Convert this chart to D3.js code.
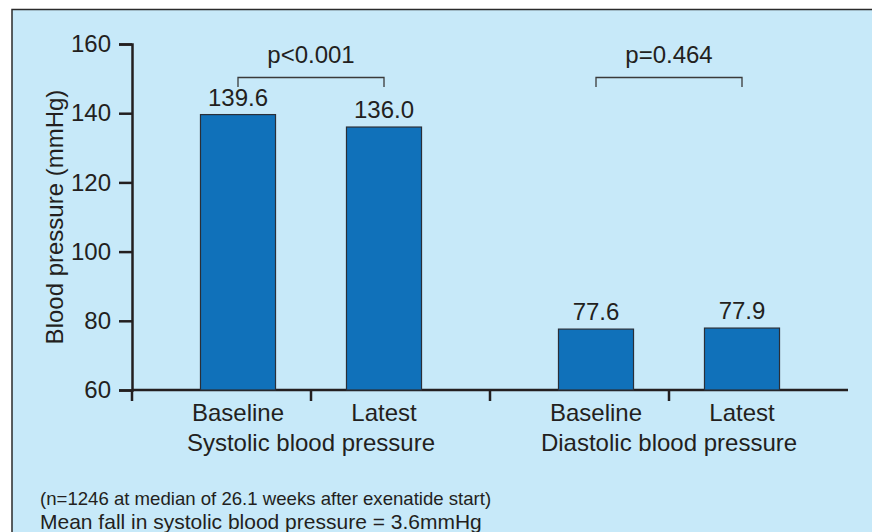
<!DOCTYPE html>
<html>
<head>
<meta charset="utf-8">
<script src="https://cdn.jsdelivr.net/npm/d3@7"></script>
<style>
  html, body { margin: 0; padding: 0; background: #ffffff; }
  svg { display: block; font-family: "Liberation Sans", Arial, Helvetica, sans-serif; }
</style>
</head>
<body>
<svg id="chart" width="872" height="532"></svg>
<script>
// Blood pressure at baseline and latest visit, by measure
const groups = ["Systolic blood pressure", "Diastolic blood pressure"];
const visits = ["Baseline", "Latest"];
const systolicValues = [139.6, 136.0];
const diastolicValues = [77.6, 77.9];
const pValues = ["p<0.001", "p=0.464"];
const yTicks = [60, 80, 100, 120, 140, 160];
const footnotes = [
  "(n=1246 at median of 26.1 weeks after exenatide start)",
  "Mean fall in systolic blood pressure = 3.6mmHg"
];

const seriesByGroup = [systolicValues, diastolicValues];
const rows = groups.flatMap((g, gi) =>
  visits.map((v, vi) => ({ group: g, visit: v, value: seriesByGroup[gi][vi] })));

const svg = d3.select("#chart");
const ink = "#231f20";
const fs = 24;

// Panel background
svg.append("rect")
  .attr("x", 12).attr("y", 9.5)
  .attr("width", 872).attr("height", 540)
  .attr("fill", "#c7e9f9")
  .attr("stroke", "#2b2b2b").attr("stroke-width", 1.5);

const plot = { left: 132, right: 848, top: 44, bottom: 390 };

const y = d3.scaleLinear().domain([60, 160]).range([plot.bottom, plot.top]);
const x0 = d3.scaleBand().domain(groups).range([plot.left, plot.right]);
const x1 = d3.scaleBand().domain(visits)
  .range([0, x0.bandwidth()])
  .paddingInner(0.486).paddingOuter(0.469);

// Y axis
const yAxis = svg.append("g")
  .attr("transform", `translate(${plot.left},0)`)
  .call(d3.axisLeft(y).tickValues(yTicks).tickSize(13).tickPadding(8));
yAxis.select(".domain").attr("stroke", ink).attr("stroke-width", 2.5);
yAxis.selectAll(".tick line").attr("stroke", ink).attr("stroke-width", 2.5);
yAxis.selectAll(".tick text")
  .attr("fill", ink).attr("font-size", fs)
  .attr("font-family", "'Liberation Sans', Arial, sans-serif");

// X axis: ticks at group edges and centres
const tickPos = d3.scaleLinear().domain([0, 4]).range([plot.left, plot.right]);
svg.append("line")
  .attr("x1", plot.left).attr("x2", plot.right)
  .attr("y1", plot.bottom).attr("y2", plot.bottom)
  .attr("stroke", ink).attr("stroke-width", 2.5);
svg.selectAll(".xtick").data([0, 1, 2, 3]).join("line")
  .attr("class", "xtick")
  .attr("x1", d => tickPos(d)).attr("x2", d => tickPos(d))
  .attr("y1", plot.bottom).attr("y2", plot.bottom + 11)
  .attr("stroke", ink).attr("stroke-width", 2.5);

// Bars
svg.selectAll(".bar").data(rows).join("rect")
  .attr("class", "bar")
  .attr("x", d => x0(d.group) + x1(d.visit))
  .attr("width", x1.bandwidth())
  .attr("y", d => y(d.value))
  .attr("height", d => y(60) - y(d.value))
  .attr("fill", "#1071ba")
  .attr("stroke", "#2a2f38").attr("stroke-width", 1.2);

// Value labels
svg.selectAll(".val").data(rows).join("text")
  .attr("class", "val")
  .attr("x", d => x0(d.group) + x1(d.visit) + x1.bandwidth() / 2)
  .attr("y", d => y(d.value) - 9)
  .attr("text-anchor", "middle")
  .attr("font-size", fs).attr("fill", ink)
  .text(d => d.value.toFixed(1));

// Category labels
svg.selectAll(".cat").data(rows).join("text")
  .attr("class", "cat")
  .attr("x", d => x0(d.group) + x1(d.visit) + x1.bandwidth() / 2)
  .attr("y", 421)
  .attr("text-anchor", "middle")
  .attr("font-size", fs).attr("fill", ink)
  .text(d => d.visit);

svg.selectAll(".grp").data(groups).join("text")
  .attr("class", "grp")
  .attr("x", d => x0(d) + x0.bandwidth() / 2)
  .attr("y", 450.5)
  .attr("text-anchor", "middle")
  .attr("font-size", fs).attr("fill", ink)
  .text(d => d);

// Significance brackets
groups.forEach((g, gi) => {
  const xa = x0(g) + x1(visits[0]) + x1.bandwidth() / 2;
  const xb = x0(g) + x1(visits[1]) + x1.bandwidth() / 2;
  const top = 77.5, drop = 9.5;
  svg.append("path")
    .attr("d", `M${xa},${top + drop}V${top}H${xb}V${top + drop}`)
    .attr("fill", "none").attr("stroke", "#3a3a3a").attr("stroke-width", 1.3);
  svg.append("text")
    .attr("x", (xa + xb) / 2).attr("y", 63)
    .attr("text-anchor", "middle")
    .attr("font-size", fs).attr("fill", ink)
    .text(pValues[gi]);
});

// Y axis title
svg.append("text")
  .attr("transform", `translate(62.5,${(plot.top + plot.bottom) / 2}) rotate(-90)`)
  .attr("text-anchor", "middle")
  .attr("font-size", fs).attr("fill", ink)
  .text("Blood pressure (mmHg)");

// Footnotes
svg.append("text").attr("x", 40).attr("y", 505)
  .attr("font-size", 18.6).attr("fill", ink).text(footnotes[0]);
svg.append("text").attr("x", 40).attr("y", 529)
  .attr("font-size", 21).attr("fill", ink).text(footnotes[1]);
</script>
</body>
</html>
